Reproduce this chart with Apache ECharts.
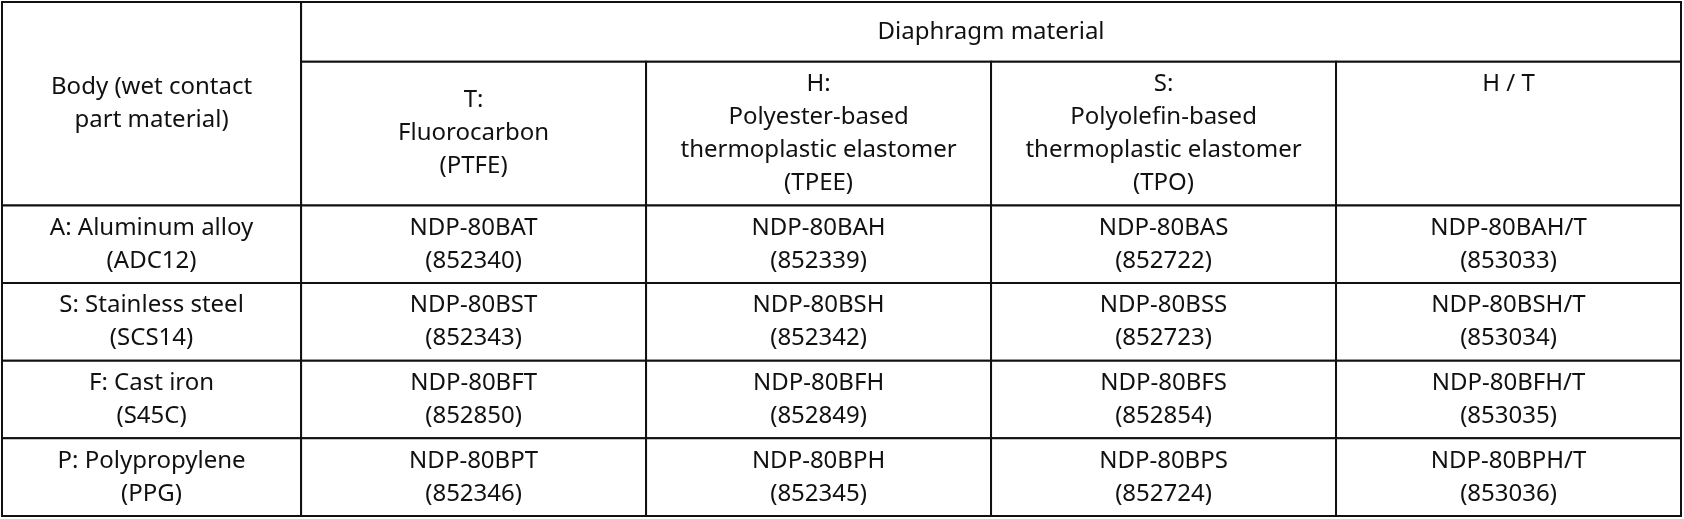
<!DOCTYPE html><html><head><meta charset="utf-8"><script src="https://cdn.jsdelivr.net/npm/echarts@6/dist/echarts.min.js"></script>
<style>html,body{margin:0;background:#fff}#c{width:1684px;height:519px}</style></head><body><div id="c"></div><script>
const topHeader = "Diaphragm material";
const cornerHeader = "Body (wet contact\npart material)";
const diaphragms = ["T:\nFluorocarbon\n(PTFE)","H:\nPolyester-based\nthermoplastic elastomer\n(TPEE)","S:\nPolyolefin-based\nthermoplastic elastomer\n(TPO)","H / T\n\n\n"];
const bodies = ["A: Aluminum alloy\n(ADC12)","S: Stainless steel\n(SCS14)","F: Cast iron\n(S45C)","P: Polypropylene\n(PPG)"];
const models = [["NDP-80BAT","NDP-80BAH","NDP-80BAS","NDP-80BAH/T"],["NDP-80BST","NDP-80BSH","NDP-80BSS","NDP-80BSH/T"],["NDP-80BFT","NDP-80BFH","NDP-80BFS","NDP-80BFH/T"],["NDP-80BPT","NDP-80BPH","NDP-80BPS","NDP-80BPH/T"]];
const codes = [["852340","852339","852722","853033"],["852343","852342","852723","853034"],["852850","852849","852854","853035"],["852346","852345","852724","853036"]];
const colEdges=[0,0.867,1.867,2.867,3.867,4.867];
const rowEdges=[0,0.77,2.62,3.62,4.62,5.62,6.62];
const cells=[];
cells.push([0,1,0,2,cornerHeader]);
cells.push([1,5,0,1,topHeader]);
diaphragms.forEach((d,i)=>cells.push([i+1,i+2,1,2,d]));
bodies.forEach((b,r)=>{cells.push([0,1,r+2,r+3,b]);models[r].forEach((m,c)=>cells.push([c+1,c+2,r+2,r+3,m+"\n("+codes[r][c]+")"]));});
const data=cells.map(c=>[colEdges[c[0]],colEdges[c[1]],rowEdges[c[2]],rowEdges[c[3]],c[4]]);
const ch=echarts.init(document.getElementById('c'));
ch.setOption({animation:false,grid:{left:2,right:3,top:2,bottom:3},
xAxis:{type:'value',min:0,max:colEdges[5],show:false},
yAxis:{type:'value',min:0,max:rowEdges[6],inverse:true,show:false},
series:[{type:'custom',data:data,encode:{x:[0,1],y:[2,3]},renderItem:(p,api)=>{
 const d=data[p.dataIndex];const a=api.coord([d[0],d[2]]),b=api.coord([d[1],d[3]]);
 return {type:'group',children:[{type:'rect',shape:{x:a[0],y:a[1],width:b[0]-a[0],height:b[1]-a[1]},style:{fill:'#fff',stroke:'#111',lineWidth:2}},
 {type:'text',style:{text:d[4],x:(a[0]+b[0])/2,y:(a[1]+b[1])/2,align:'center',verticalAlign:'middle',fontFamily:'Noto Sans',fontSize:24,lineHeight:33,fill:'#111'}}]};
}}]});
</script></body></html>
